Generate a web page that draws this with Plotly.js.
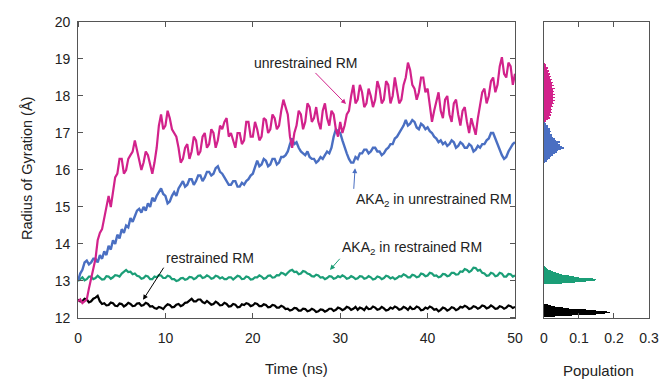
<!DOCTYPE html>
<html>
<head>
<meta charset="utf-8">
<script src="https://cdn.plot.ly/plotly-3.0.1.min.js"></script>
<style>html,body{margin:0;padding:0;background:#fff;}#chart{width:659px;height:379px;position:relative;}.frm{position:absolute;box-sizing:border-box;border:1px solid #555;pointer-events:none;}.tk{position:absolute;background:#555;pointer-events:none;}</style>
</head>
<body>
<div id="chart"></div>
<script>
// Time (ns)
var time = [0,0.25,0.5,0.75,1,1.25,1.5,1.75,2,2.25,2.5,2.75,3,3.25,3.5,3.75,4,4.25,4.5,4.75,
5,5.25,5.5,5.75,6,6.25,6.5,6.75,7,7.25,7.5,7.75,8,8.25,8.5,8.75,9,9.25,9.5,9.75,
10,10.25,10.5,10.75,11,11.25,11.5,11.75,12,12.25,12.5,12.75,13,13.25,13.5,13.75,14,14.25,14.5,14.75,
15,15.25,15.5,15.75,16,16.25,16.5,16.75,17,17.25,17.5,17.75,18,18.25,18.5,18.75,19,19.25,19.5,19.75,
20,20.25,20.5,20.75,21,21.25,21.5,21.75,22,22.25,22.5,22.75,23,23.25,23.5,23.75,24,24.25,24.5,24.75,
25,25.25,25.5,25.75,26,26.25,26.5,26.75,27,27.25,27.5,27.75,28,28.25,28.5,28.75,29,29.25,29.5,29.75,
30,30.25,30.5,30.75,31,31.25,31.5,31.75,32,32.25,32.5,32.75,33,33.25,33.5,33.75,34,34.25,34.5,34.75,
35,35.25,35.5,35.75,36,36.25,36.5,36.75,37,37.25,37.5,37.75,38,38.25,38.5,38.75,39,39.25,39.5,39.75,
40,40.25,40.5,40.75,41,41.25,41.5,41.75,42,42.25,42.5,42.75,43,43.25,43.5,43.75,44,44.25,44.5,44.75,
45,45.25,45.5,45.75,46,46.25,46.5,46.75,47,47.25,47.5,47.75,48,48.25,48.5,48.75,49,49.25,49.5,49.75,
50];

// Radius of gyration (Å)
var unrestrainedRM = [12.45,12.5,12.4,12.45, 12.5,12.8,13.1,13.3, 13.6,14.1,14.3,14.4, 14.7,15.1,15.3,15.0, 15.4,15.8,15.9,16.3,
16.3,15.9,16.0,16.3, 16.4,16.5,16.8,16.5, 16.3,16.0,16.2,16.5, 16.4,16.1,15.9,16.2, 16.6,17.2,17.5,17.1,
17.2,17.6,17.4,17.1, 17.0,16.9,16.6,16.2, 16.3,16.6,16.7,16.3, 16.5,16.9,16.8,16.4, 16.5,16.9,17.0,16.6,
16.7,17.1,17.0,16.6, 16.8,17.2,17.1,17.3, 17.4,16.9,17.0,16.8, 16.6,17.0,17.0,16.7, 16.8,17.3,17.3,16.9,
16.9,17.3,17.1,16.8, 16.9,17.4,17.35,17.0, 17.1,17.5,17.4,17.1, 17.2,17.6,17.9,17.7, 17.5,16.9,16.6,17.0,
17.2,17.6,17.5,17.1, 17.3,17.8,17.7,17.3, 17.4,17.7,17.3,17.1, 17.6,17.8,17.4,17.2, 17.6,17.5,17.1,16.9,
17.3,17.0,17.2,17.5, 17.6,18.0,18.3,17.8, 17.9,18.3,18.1,17.7, 17.8,18.2,18.0,17.7, 17.9,18.4,18.2,17.8,
17.9,18.4,18.3,17.8, 18.0,18.5,18.2,17.8, 17.9,18.3,18.5,18.9, 18.7,18.3,18.2,17.9, 18.1,18.5,18.5,18.1,
18.2,17.7,17.3,17.6, 17.9,18.1,17.6,17.4, 17.9,18.0,17.5,17.3, 17.8,17.9,17.5,17.2, 17.6,17.7,17.3,17.0,
17.4,17.2,16.95,17.4, 17.8,18.1,18.2,17.8, 18.0,18.4,18.5,18.1, 18.3,18.8,19.05,18.6, 18.5,18.9,18.8,18.3,
18.6];

var akaUnrestrained = [13.0,13.2,13.3,13.5, 13.55,13.45,13.5,13.6, 13.6,13.5,13.7,13.6, 13.8,13.7,13.95,13.85, 14.1,14.0,14.25,14.15,
14.4,14.3,14.5,14.45, 14.7,14.6,14.75,14.9, 14.95,14.85,15.0,14.9, 15.1,15.0,15.25,15.15, 15.3,15.4,15.5,15.35,
15.3,15.1,15.15,15.3, 15.4,15.3,15.5,15.6, 15.7,15.55,15.6,15.75, 15.75,15.6,15.7,15.85, 15.85,15.7,15.8,15.95,
15.95,15.85,15.9,16.05, 16.1,15.95,15.9,15.8, 15.7,15.6,15.6,15.7, 15.7,15.55,15.55,15.65, 15.6,15.7,15.75,15.85,
15.9,16.1,16.25,16.1, 16.15,16.3,16.25,16.1, 16.15,16.3,16.3,16.15, 16.2,16.35,16.35,16.4, 16.5,16.7,16.85,16.7,
16.75,16.6,16.5,16.45, 16.4,16.5,16.35,16.3, 16.3,16.2,16.25,16.35, 16.3,16.4,16.5,16.45, 16.6,16.9,17.1,17.05,
17.0,16.8,16.6,16.45, 16.3,16.2,16.2,16.35, 16.3,16.45,16.45,16.55, 16.55,16.45,16.5,16.6, 16.6,16.5,16.5,16.4,
16.45,16.55,16.6,16.7, 16.7,16.85,16.9,17.0, 17.1,17.2,17.35,17.2, 17.25,17.35,17.3,17.15, 17.1,17.25,17.2,17.1,
17.15,17.05,17.0,16.9, 16.85,16.75,16.8,16.7, 16.75,16.65,16.7,16.8, 16.75,16.6,16.65,16.75, 16.7,16.6,16.6,16.7,
16.65,16.5,16.55,16.65, 16.6,16.7,16.7,16.8, 16.85,17.0,17.0,16.85, 16.7,16.5,16.4,16.3, 16.35,16.5,16.6,16.7,
16.75];

var akaRestrained = [13.0,13.05,13.1,13.02, 13.05,13.12,13.12,13.05, 13.08,13.14,13.1,13.04, 13.05,13.13,13.12,13.06, 13.1,13.16,13.15,13.12,
13.2,13.26,13.3,13.24, 13.25,13.18,13.2,13.14, 13.12,13.06,13.08,13.14, 13.12,13.05,13.05,13.12, 13.1,13.16,13.15,13.08,
13.08,13.14,13.12,13.05, 13.05,13.0,13.02,13.07, 13.08,13.03,13.05,13.11, 13.1,13.05,13.08,13.14, 13.15,13.08,13.1,13.15,
13.12,13.06,13.08,13.14, 13.12,13.07,13.1,13.05, 13.05,13.1,13.1,13.04, 13.08,13.14,13.12,13.05, 13.06,13.12,13.1,13.04,
13.05,13.1,13.1,13.15, 13.12,13.06,13.08,13.14, 13.15,13.09,13.1,13.16, 13.15,13.22,13.2,13.16, 13.22,13.28,13.3,13.24,
13.25,13.18,13.2,13.27, 13.25,13.2,13.18,13.13, 13.12,13.17,13.15,13.09, 13.1,13.05,13.08,13.13, 13.12,13.06,13.08,13.13,
13.1,13.15,13.12,13.06, 13.08,13.13,13.1,13.05, 13.07,13.13,13.12,13.06, 13.08,13.13,13.1,13.04, 13.06,13.12,13.1,13.05,
13.08,13.14,13.12,13.07, 13.1,13.05,13.08,13.13, 13.12,13.18,13.15,13.1, 13.1,13.17,13.15,13.1, 13.12,13.2,13.18,13.13,
13.15,13.22,13.2,13.14, 13.15,13.1,13.12,13.19, 13.18,13.13,13.15,13.22, 13.22,13.17,13.18,13.26, 13.25,13.32,13.3,13.24,
13.28,13.36,13.35,13.28, 13.3,13.22,13.2,13.14, 13.15,13.22,13.2,13.13, 13.15,13.22,13.2,13.12, 13.12,13.19,13.18,13.12,
13.15];

var restrainedRM = [12.5,12.45,12.45,12.52, 12.5,12.42,12.45,12.52, 12.55,12.6,12.45,12.38, 12.4,12.34,12.35,12.42, 12.4,12.33,12.32,12.39,
12.38,12.31,12.35,12.41, 12.38,12.32,12.33,12.39, 12.4,12.33,12.35,12.41, 12.38,12.31,12.32,12.27, 12.25,12.3,12.28,12.24,
12.32,12.37,12.35,12.29, 12.3,12.36,12.38,12.32, 12.35,12.41,12.42,12.47, 12.52,12.45,12.45,12.5, 12.5,12.43,12.4,12.46,
12.42,12.36,12.38,12.44, 12.4,12.34,12.35,12.41, 12.38,12.31,12.32,12.38, 12.36,12.29,12.3,12.37, 12.35,12.4,12.38,12.32,
12.34,12.4,12.38,12.32, 12.32,12.37,12.35,12.29, 12.3,12.35,12.34,12.28, 12.28,12.33,12.3,12.24, 12.25,12.2,12.22,12.27,
12.26,12.2,12.2,12.25, 12.24,12.18,12.2,12.25, 12.22,12.16,12.18,12.23, 12.22,12.17,12.2,12.25, 12.25,12.19,12.22,12.28,
12.26,12.21,12.24,12.3, 12.28,12.22,12.25,12.3, 12.22,12.28,12.26,12.21, 12.3,12.24,12.25,12.31, 12.28,12.22,12.24,12.3,
12.26,12.2,12.22,12.28, 12.25,12.31,12.28,12.22, 12.24,12.3,12.27,12.22, 12.3,12.24,12.25,12.31, 12.28,12.21,12.22,12.28,
12.25,12.31,12.28,12.22, 12.24,12.18,12.22,12.28, 12.26,12.2,12.23,12.29, 12.27,12.21,12.24,12.3, 12.28,12.33,12.3,12.24,
12.26,12.32,12.3,12.25, 12.28,12.34,12.32,12.26, 12.28,12.34,12.3,12.25, 12.26,12.32,12.3,12.25, 12.28,12.34,12.32,12.27,
12.3];

// Population histograms
var pinkBins = [17.32,17.36,17.40,17.44,17.48,17.52,17.56,17.60,17.64,17.68,
17.72,17.76,17.80,17.84,17.88,17.92,17.96,18.00,18.04,18.08,
18.12,18.16,18.20,18.24,18.28,18.32,18.36,18.40,18.44,18.48,
18.52,18.56,18.60,18.64,18.68,18.72,18.76,18.80,18.84,18.88];
var pinkPop = [0.006,0.012,0.018,0.014,0.020,0.017,0.022,0.019,0.024,0.021,
0.026,0.023,0.028,0.025,0.030,0.026,0.031,0.027,0.030,0.026,
0.029,0.025,0.030,0.024,0.028,0.022,0.026,0.020,0.024,0.018,
0.021,0.015,0.018,0.012,0.014,0.009,0.010,0.006,0.005,0.003];

var blueBins = [16.20,16.24,16.28,16.32,16.36,16.40,16.44,16.48,16.52,16.56,
16.60,16.64,16.68,16.72,16.76,16.80,16.84,16.88,16.92,16.96,
17.00,17.04,17.08,17.12,17.16,17.20,17.24,17.28];
var bluePop = [0.004,0.008,0.012,0.016,0.020,0.026,0.030,0.036,0.040,0.048,
0.058,0.052,0.045,0.040,0.046,0.035,0.030,0.026,0.022,0.024,
0.018,0.020,0.016,0.018,0.012,0.010,0.006,0.003];

var greenBins = [12.92,12.94,12.96,12.98,13.00,13.02,13.04,13.06,13.08,13.10,
13.12,13.14,13.16,13.18,13.20,13.22,13.24,13.26,13.28,13.30,
13.32,13.34,13.36,13.38,13.40];
var greenPop = [0.02,0.05,0.09,0.12,0.135,0.145,0.15,0.14,0.12,0.10,
0.085,0.07,0.06,0.05,0.042,0.035,0.03,0.025,0.02,0.016,
0.012,0.009,0.006,0.004,0.002];

var blackBins = [12.04,12.06,12.08,12.10,12.12,12.14,12.16,12.18,12.20,12.22,
12.24,12.26,12.28,12.30,12.32,12.34,12.36,12.38];
var blackPop = [0.03,0.08,0.12,0.15,0.175,0.19,0.2,0.18,0.15,0.12,
0.09,0.07,0.055,0.04,0.03,0.02,0.01,0.005];

var xTicks = [0,10,20,30,40,50];
var yTicks = [12,13,14,15,16,17,18,19,20];
var popTicks = [0,0.1,0.2,0.3];
var popTickText = ['0','0.1','0.2','0.3'];

var PINK = '#d2228b', BLUE = '#4a6fc2', GREEN = '#1b9e77', BLACK = '#000000';
var FONT = 'Liberation Sans, Arial, sans-serif';
var AX = '#555';

var traces = [
  {x: time, y: restrainedRM, type: 'scatter', mode: 'lines', line: {color: BLACK, width: 2.2}, xaxis: 'x', yaxis: 'y'},
  {x: time, y: akaRestrained, type: 'scatter', mode: 'lines', line: {color: GREEN, width: 2.2}, xaxis: 'x', yaxis: 'y'},
  {x: time, y: akaUnrestrained, type: 'scatter', mode: 'lines', line: {color: BLUE, width: 2.4}, xaxis: 'x', yaxis: 'y'},
  {x: time, y: unrestrainedRM, type: 'scatter', mode: 'lines', line: {color: PINK, width: 2.2}, xaxis: 'x', yaxis: 'y'},
  {x: pinkPop, y: pinkBins, type: 'bar', orientation: 'h', width: 0.04, marker: {color: PINK, line: {width: 0}}, xaxis: 'x2', yaxis: 'y2'},
  {x: bluePop, y: blueBins, type: 'bar', orientation: 'h', width: 0.04, marker: {color: BLUE, line: {width: 0}}, xaxis: 'x2', yaxis: 'y2'},
  {x: greenPop, y: greenBins, type: 'bar', orientation: 'h', width: 0.02, marker: {color: GREEN, line: {width: 0}}, xaxis: 'x2', yaxis: 'y2'},
  {x: blackPop, y: blackBins, type: 'bar', orientation: 'h', width: 0.02, marker: {color: BLACK, line: {width: 0}}, xaxis: 'x2', yaxis: 'y2'}
];

function axisStyle(extra) {
  var base = {
    showline: true, linecolor: AX, linewidth: 1, showgrid: false, zeroline: false,
    ticks: 'inside', ticklen: 5, tickcolor: AX, tickwidth: 1,
    tickfont: {family: FONT, size: 14, color: '#222'}
  };
  for (var k in extra) base[k] = extra[k];
  return base;
}

var txt = {family: FONT, size: 14, color: '#222'};
var d1x = [0.1184, 0.7815], d2x = [0.8255, 0.9848], dy = [0.161, 0.942];

var layout = {
  width: 659, height: 379,
  margin: {l: 0, r: 0, t: 0, b: 0},
  paper_bgcolor: '#fff', plot_bgcolor: '#fff',
  showlegend: false,
  barmode: 'overlay', bargap: 0,
  xaxis: axisStyle({domain: d1x, range: [0, 50], tickvals: xTicks, mirror: 'allticks', anchor: 'y', ticklabelstandoff: 7}),
  yaxis: axisStyle({domain: dy, range: [12, 20], tickvals: yTicks, mirror: 'allticks', anchor: 'x', ticklabelstandoff: 4}),
  xaxis2: axisStyle({domain: d2x, range: [0, 0.3], tickvals: popTicks, ticktext: popTickText, mirror: 'all', anchor: 'y2', ticklabelstandoff: 7}),
  yaxis2: axisStyle({domain: dy, range: [12, 20], showticklabels: false, ticks: '', mirror: 'all', anchor: 'x2'}),
  annotations: [
    {xref: 'paper', yref: 'paper', x: 296/659, y: 1 - 368/379, xanchor: 'center', yanchor: 'middle', text: 'Time (ns)', showarrow: false, font: {family: FONT, size: 15, color: '#222'}},
    {xref: 'paper', yref: 'paper', x: 598/659, y: 1 - 370/379, xanchor: 'center', yanchor: 'middle', text: 'Population', showarrow: false, font: {family: FONT, size: 15, color: '#222'}},
    {xref: 'paper', yref: 'paper', x: 27/659, y: 1 - 169/379, xanchor: 'center', yanchor: 'middle', text: 'Radius of Gyration (Å)', textangle: -90, showarrow: false, font: {family: FONT, size: 14.5, color: '#222'}},

    {xref: 'x', yref: 'y', axref: 'x', ayref: 'y', x: 30.66, y: 17.78, ax: 26.1, ay: 18.88, text: 'unrestrained RM', font: txt,
     showarrow: true, arrowhead: 2, arrowsize: 1, arrowwidth: 1, arrowcolor: PINK, standoff: 0},
    {xref: 'x', yref: 'y', axref: 'x', ayref: 'y', x: 31.7, y: 16.05, ax: 31.55, ay: 15.49, xanchor: 'left', yanchor: 'top', text: 'AKA<sub>2</sub> in unrestrained RM', font: txt,
     showarrow: true, arrowhead: 2, arrowsize: 1, arrowwidth: 1, arrowcolor: BLUE, standoff: 0},
    {xref: 'x', yref: 'y', axref: 'x', ayref: 'y', x: 7.44, y: 12.49, ax: 9.8, ay: 13.36, xanchor: 'left', yanchor: 'bottom', text: 'restrained RM', font: txt,
     showarrow: true, arrowhead: 2, arrowsize: 1, arrowwidth: 1, arrowcolor: BLACK, standoff: 0},
    {xref: 'x', yref: 'y', axref: 'x', ayref: 'y', x: 28.83, y: 13.3, ax: 29.95, ay: 13.6, xanchor: 'left', yanchor: 'bottom', text: 'AKA<sub>2</sub> in restrained RM', font: txt,
     showarrow: true, arrowhead: 2, arrowsize: 1, arrowwidth: 1, arrowcolor: GREEN, standoff: 0}
  ]
};

var gd = document.getElementById('chart');

// Frame boxes and mirrored tick marks, placed with Plotly's own axis scales
function drawFrames() {
  try {
    var old = gd.querySelectorAll('.frm,.tk');
    for (var i = 0; i < old.length; i++) old[i].parentNode.removeChild(old[i]);
    var fl = gd._fullLayout;
    if (!fl || !fl.xaxis || !fl.xaxis._length) return;
    function box(xa, ya) {
      var d = document.createElement('div');
      d.className = 'frm';
      d.style.left = (xa._offset - 1) + 'px';
      d.style.top = (ya._offset - 1) + 'px';
      d.style.width = (xa._length + 2) + 'px';
      d.style.height = (ya._length + 2) + 'px';
      gd.appendChild(d);
    }
    function tick(l, t, w, h) {
      var d = document.createElement('div');
      d.className = 'tk';
      d.style.left = l + 'px'; d.style.top = t + 'px';
      d.style.width = w + 'px'; d.style.height = h + 'px';
      gd.appendChild(d);
    }
    var xa = fl.xaxis, ya = fl.yaxis;
    box(xa, ya);
    box(fl.xaxis2, fl.yaxis2);
    xTicks.forEach(function (v) {
      var px = xa._offset + xa.l2p(v) - 0.5;
      tick(px, ya._offset, 1, 5);
    });
    yTicks.forEach(function (v) {
      var py = ya._offset + ya.l2p(v) - 0.5;
      tick(xa._offset + xa._length - 5, py, 5, 1);
    });
  } catch (e) {}
}

try {
  var p = Plotly.newPlot(gd, traces, layout, {displayModeBar: false, staticPlot: true});
  drawFrames();
  if (p && p.then) p.then(drawFrames, drawFrames);
} catch (e) {
  drawFrames();
}
setTimeout(drawFrames, 50);
</script>
</body>
</html>
